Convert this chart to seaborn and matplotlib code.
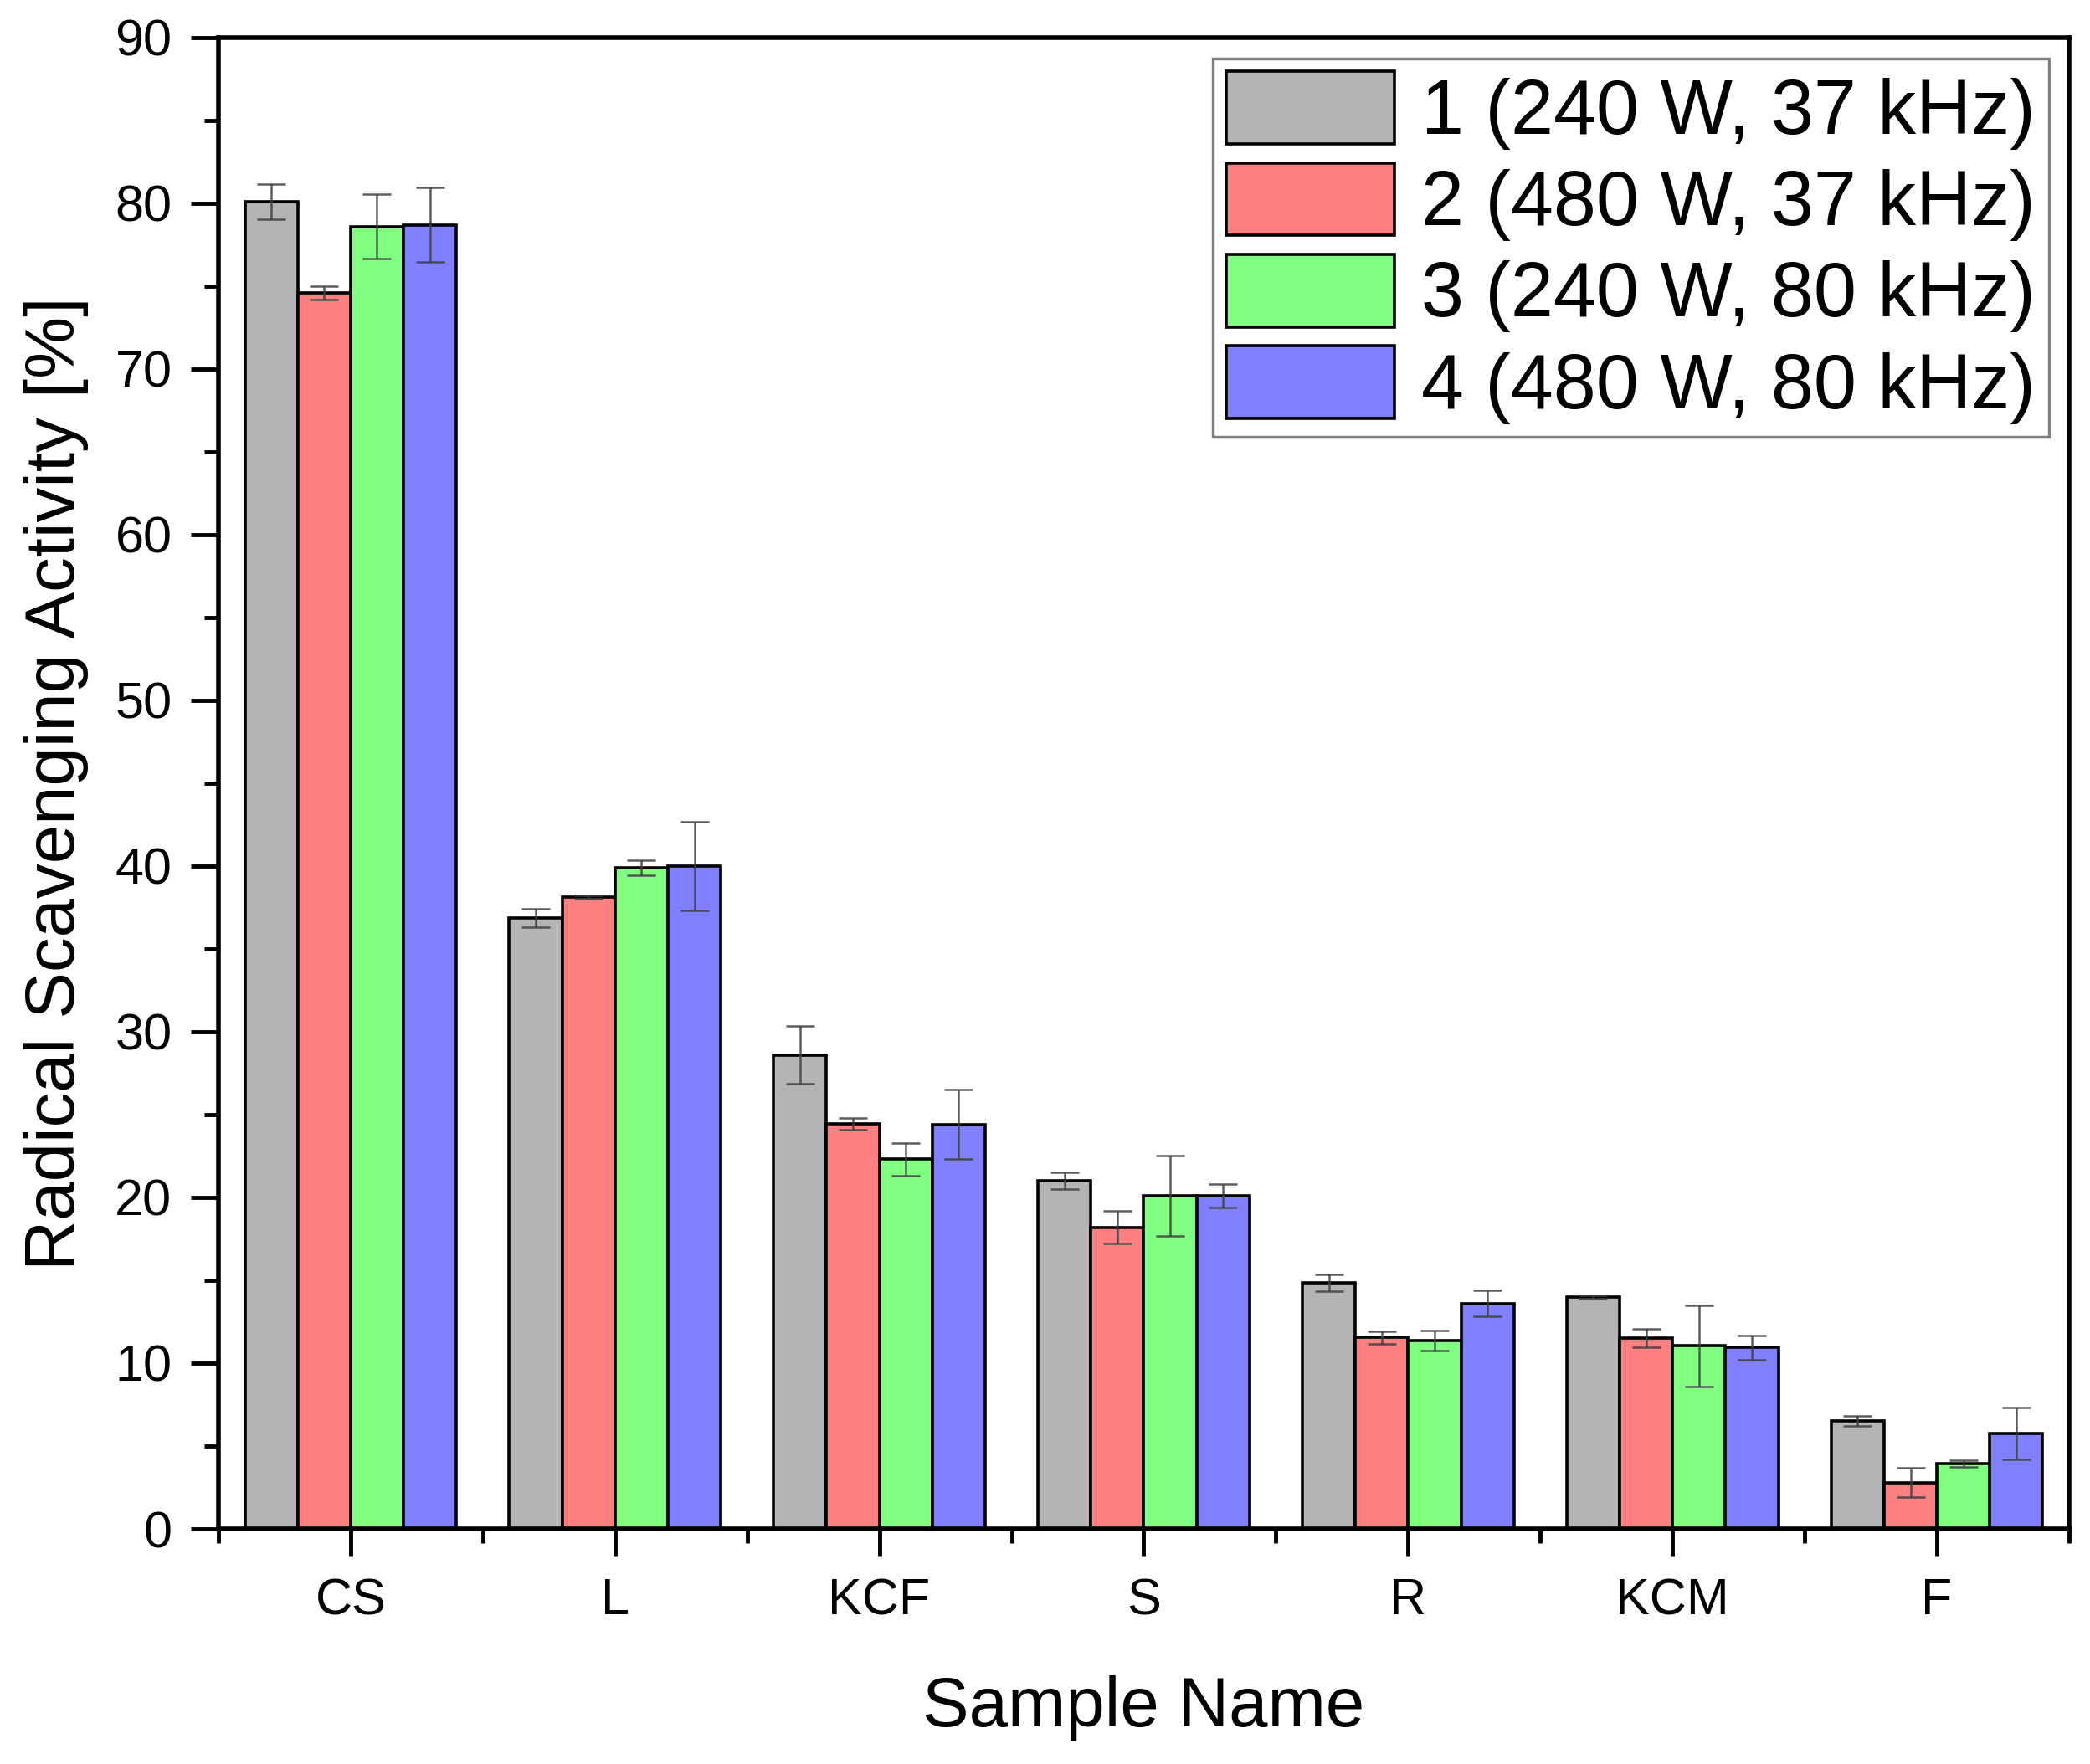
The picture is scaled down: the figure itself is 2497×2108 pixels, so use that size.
import numpy as np
import pandas as pd
import matplotlib
matplotlib.use("Agg")
import matplotlib.pyplot as plt
import matplotlib.patches as mpatches
from matplotlib.ticker import MultipleLocator, FixedLocator
import seaborn as sns

# ---- data ----
samples = ["CS", "L", "KCF", "S", "R", "KCM", "F"]
conditions = ["1 (240 W, 37 kHz)", "2 (480 W, 37 kHz)",
              "3 (240 W, 80 kHz)", "4 (480 W, 80 kHz)"]

act_1 = [80.1, 36.85, 28.6, 21.0, 14.85, 14.0, 6.5]
act_2 = [74.6, 38.15, 24.45, 18.2, 11.55, 11.5, 2.8]
act_3 = [78.6, 39.9, 22.3, 20.1, 11.35, 11.05, 3.95]
act_4 = [78.7, 40.0, 24.4, 20.1, 13.6, 10.95, 5.75]

err_1 = [1.05, 0.55, 1.75, 0.5, 0.5, 0.1, 0.3]
err_2 = [0.4, 0.1, 0.37, 1.0, 0.37, 0.55, 0.88]
err_3 = [1.95, 0.44, 1.0, 2.4, 0.6, 2.44, 0.2]
err_4 = [2.25, 2.66, 2.1, 0.7, 0.78, 0.74, 1.55]

colors = ["#b4b4b4", "#ff8080", "#80ff80", "#8080ff"]

values = [act_1, act_2, act_3, act_4]
errors = [err_1, err_2, err_3, err_4]

df = pd.DataFrame({
    "sample": samples * len(conditions),
    "condition": np.repeat(conditions, len(samples)),
    "value": np.concatenate(values),
})

# ---- style ----
sns.set_style("ticks")
plt.rcParams["font.family"] = ["Liberation Sans", "DejaVu Sans"]
plt.rcParams["text.color"] = "black"
plt.rcParams["axes.labelcolor"] = "black"
plt.rcParams["xtick.color"] = "black"
plt.rcParams["ytick.color"] = "black"

fig = plt.figure(figsize=(24.97, 21.08), dpi=100)
ax = fig.add_axes([0.1045, 0.1333, 0.8855, 0.8454])

sns.barplot(data=df, x="sample", y="value", hue="condition",
            order=samples, hue_order=conditions, palette=colors,
            saturation=1, errorbar=None, width=0.8, gap=0,
            edgecolor="black", linewidth=2.6, legend=False, ax=ax)

# error bars on top of each bar
for cont, vals, errs in zip(ax.containers, values, errors):
    xs = [b.get_x() + b.get_width() / 2 for b in cont]
    ax.errorbar(xs, vals, yerr=errs, fmt="none", ecolor="#404040",
                elinewidth=1.8, capsize=12.5, capthick=1.8, alpha=0.85,
                zorder=4)

ax.set_xlim(-0.5, 6.5)
ax.set_ylim(0, 90)
ax.yaxis.set_major_locator(MultipleLocator(10))
ax.yaxis.set_minor_locator(MultipleLocator(5))
ax.xaxis.set_minor_locator(FixedLocator(np.arange(-0.5, 7, 1)))

for side in ["left", "right", "top", "bottom"]:
    ax.spines[side].set_visible(True)
    ax.spines[side].set_linewidth(4)
    ax.spines[side].set_color("black")

ax.tick_params(axis="both", which="both", direction="out", width=3.5,
               color="black", labelcolor="black", top=False, right=False)
ax.tick_params(axis="both", which="major", length=24, labelsize=44)
ax.tick_params(axis="both", which="minor", length=12)
ax.tick_params(axis="y", which="major", pad=16)
ax.tick_params(axis="x", which="major", pad=18)

ax.set_xlabel("Sample Name", fontsize=60, color="black")
ax.set_ylabel("Radical Scavenging Activity [%]", fontsize=60, color="black")
ax.xaxis.set_label_coords(0.5, -0.098)
ax.yaxis.set_label_coords(-0.07, 0.5)

handles = [mpatches.Patch(facecolor=c, edgecolor="black", linewidth=2.6, label=l)
           for c, l in zip(colors, conditions)]
leg = ax.legend(handles=handles, loc="upper right", bbox_to_anchor=(0.989, 0.986),
                borderaxespad=0, fontsize=66, handlelength=2.2, handleheight=1.08,
                handletextpad=0.35, labelspacing=0.17, borderpad=0.17,
                frameon=True, fancybox=False, edgecolor="#808080", framealpha=1)
leg.get_frame().set_linewidth(2.5)
for t in leg.get_texts():
    t.set_color("black")

fig.savefig("out.png", dpi=100, facecolor="white")
